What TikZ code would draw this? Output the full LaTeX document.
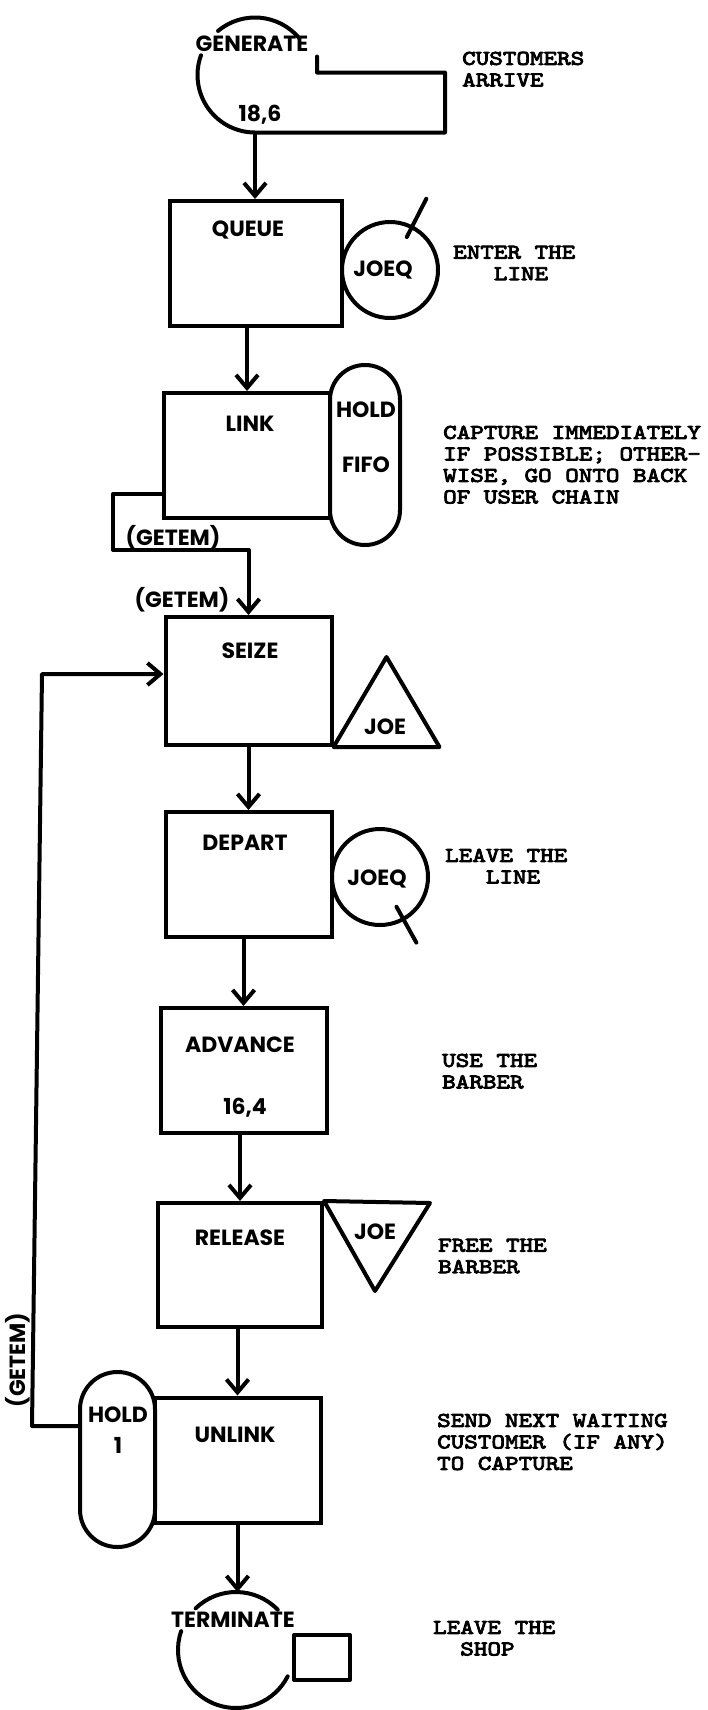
\documentclass[tikz,border=0pt]{standalone}
\usepackage{fontspec}
\newfontfamily\labfont{Poppins}
\newfontfamily\twfont{lmmono10-regular.otf}[FakeStretch=1.23,FakeBold=4]
\usetikzlibrary{arrows.meta}
\tikzset{
  ln/.style={line width=4pt, line join=round, line cap=round},
  arr/.style={line width=4pt, line join=round, -{Straight Barb[length=13pt,width=22pt]}},
  blockbox/.style={draw, line width=4pt, minimum width=166pt, minimum height=125pt, inner sep=0pt},
  capsule/.style={draw, line width=4pt, inner sep=0pt},
  ring/.style={draw, circle, line width=4pt, minimum size=96pt, inner sep=0pt},
  lab/.style={font=\labfont\bfseries\fontsize{22pt}{22pt}\selectfont, inner sep=0pt},
  note/.style={font=\twfont\fontsize{21pt}{21.5pt}\selectfont, inner sep=0pt, align=left, anchor=north west}
}
\begin{document}
\begin{tikzpicture}[x=1pt,y=1pt]
\useasboundingbox (0,0) rectangle (708,-1710);
\fill[white] (0,0) rectangle (708,-1710);

% GENERATE
\node[circle, minimum size=115pt, inner sep=0pt, outer sep=0pt] (gen) at (255,-75) {};
\draw[ln] (gen.40) arc[start angle=40,end angle=130,radius=57.5pt];
\draw[ln] (gen.160) arc[start angle=160,end angle=270,radius=57.5pt] -- ++(190,0) -- ++(0,60) -- ++(-128,0) -- ++(0,16);
\node[lab] (gent) at (252,-44) {GENERATE};
\node[lab] (genv) at (260,-115) {18,6};

% QUEUE
\node[blockbox, minimum width=172pt] (queue) at (256,-263.5) {};
\node[lab] (queuet) at (248,-230) {QUEUE};
\node[ring] (joeq1) at (390,-270) {};
\node[lab] (joeq1t) at (383,-270) {JOEQ};
\draw[ln] (joeq1.center) ++(63:37) -- ++(63:43);

% LINK
\node[blockbox] (link) at (247,-455.5) {};
\node[lab] (linkt) at (250,-424) {LINK};
\node[capsule, rounded corners=34.9pt, minimum width=70pt, minimum height=180pt] (hold) at (365,-455) {};
\node[lab] (holdt) at (366,-410) {HOLD};
\node[lab] (fifot) at (366,-465) {FIFO};
\node[lab] (get1) at (173,-538) {(GETEM)};
\node[lab] (get2) at (182,-600) {(GETEM)};

% SEIZE
\node[blockbox, minimum height=128pt] (seize) at (248.5,-681) {};
\node[lab] (seizet) at (250,-651) {SEIZE};
\draw[ln] (seize.south east) -- ++(53,90) -- ++(53,-90) -- cycle;
\node[lab] (joe1t) at (385,-727) {JOE};

% DEPART
\node[blockbox] (depart) at (248.5,-874.5) {};
\node[lab] (departt) at (245,-843) {DEPART};
\node[ring] (joeq2) at (380,-877) {};
\node[lab] (joeq2t) at (377,-879) {JOEQ};
\draw[ln] (joeq2.center) ++(-61:34) -- ++(-61:41);

% ADVANCE
\node[blockbox] (advance) at (243.5,-1070.5) {};
\node[lab] (advt) at (240,-1045) {ADVANCE};
\node[lab] (advv) at (245,-1108) {16,4};

% RELEASE
\node[blockbox, minimum width=164pt, minimum height=124pt] (release) at (240,-1265) {};
\node[lab] (relt) at (240,-1238) {RELEASE};
\draw[ln] (release.north east) -- ++(106,-2) -- ++(-55,-88) -- cycle;
\node[lab] (joe2t) at (375,-1232) {JOE};

% UNLINK
\node[blockbox] (unlink) at (237.5,-1460) {};
\node[lab] (unlt) at (235,-1435) {UNLINK};
\node[capsule, rounded corners=37.4pt, minimum width=75pt, minimum height=175pt] (hold1) at (117.5,-1459.5) {};
\node[lab] (hold1t) at (118,-1415) {HOLD};
\node[lab] (one) at (118,-1445) {1};
\node[lab, rotate=90] (get3) at (18,-1360) {(GETEM)};

% TERMINATE
\node[circle, minimum size=116pt, inner sep=0pt, outer sep=0pt] (term) at (236,-1650) {};
\draw[ln] (term.44) arc[start angle=44,end angle=134,radius=58pt];
\draw[ln] (term.161) arc[start angle=161,end angle=333,radius=58pt];
\draw[ln] ([yshift=15pt]term.east) -- ++(56,0) -- ++(0,-45) -- ++(-56,0) -- cycle;
\node[lab] (termt) at (233,-1620) {TERMINATE};

% notes
\node[note] (n1) at (462,-51.6) {CUSTOMERS\\ARRIVE};
\node[note] (n2) at (453,-245.6) {ENTER THE\\\hphantom{XXX}LINE};
\node[note] (n3) at (443,-425.6) {CAPTURE IMMEDIATELY\\IF POSSIBLE; OTHER-\\WISE, GO ONTO BACK\\OF USER CHAIN};
\node[note] (n4) at (445,-848.6) {LEAVE THE\\\hphantom{XXX}LINE};
\node[note] (n5) at (442,-1053.6) {USE THE\\BARBER};
\node[note] (n6) at (438,-1238.6) {FREE THE\\BARBER};
\node[note] (n7) at (437,-1413.6) {SEND NEXT WAITING\\CUSTOMER (IF ANY)\\TO CAPTURE};
\node[note] (n8) at (433,-1620.6) {LEAVE THE\\\hphantom{XX}SHOP};

% connectors
\coordinate (g1) at (113,-550);
\coordinate (c1) at (32,-1426);
\coordinate (c2) at (42,-674);
\draw[arr] (gen.south) -- (gen.south |- queue.north);
\draw[arr] (link.north |- queue.south) -- (link.north);
\draw[arr] ([yshift=26pt]link.south west) -| (g1) -| (seize.north);
\draw[arr] (depart.north |- seize.south) -- (depart.north);
\draw[arr] (advance.north |- depart.south) -- (advance.north);
\draw[arr] (release.north |- advance.south) -- (release.north);
\draw[arr] (unlink.north |- release.south) -- (unlink.north);
\draw[arr] (unlink.south) -- (unlink.south |- term.north);
\draw[arr] ([yshift=33.5pt]hold1.west) -- (c1) -- (c2) -- (c2 -| seize.west);
\end{tikzpicture}
\end{document}
